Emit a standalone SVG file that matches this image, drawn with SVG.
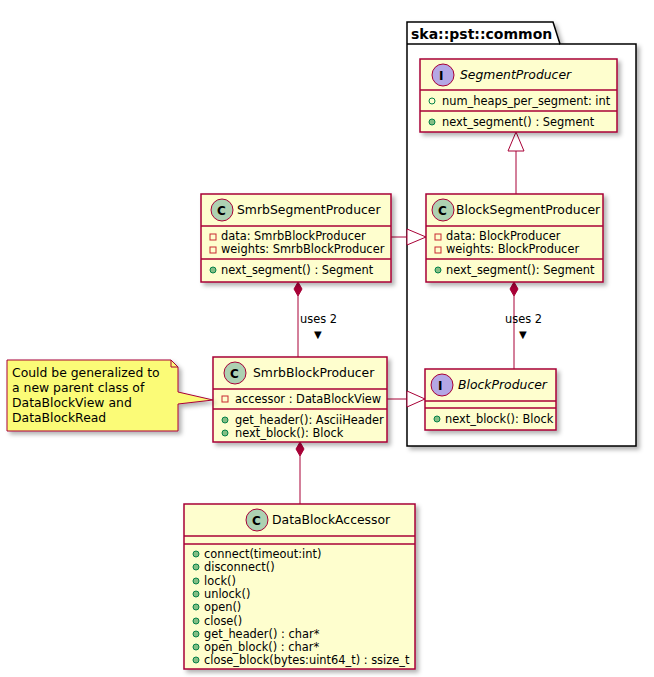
<svg xmlns="http://www.w3.org/2000/svg" width="654" height="677" viewBox="0 0 654 677">
<style>
text{font-family:"DejaVu Sans",sans-serif;font-size:11.4px;fill:#000}
.cls{fill:#FEFECE;stroke:#A80036;stroke-width:1.5;filter:url(#sh)}
.sep{stroke:#A80036;stroke-width:1.5}
.ln{stroke:#A80036;stroke-width:1;fill:none}
.t{font-size:12.4px}
.it{font-style:italic}
.pub{fill:#84BE84;stroke:#038048}
.priv{fill:none;stroke:#C82930}
</style>
<defs>
<filter id="sh" x="-10%" y="-10%" width="130%" height="130%"><feDropShadow dx="3" dy="3" stdDeviation="2" flood-color="#000" flood-opacity="0.3"/></filter>
</defs>
<g id="package">
<path d="M407,44 V22 H553 L560,44 H636 V446 H407 Z" fill="#fff" stroke="#000" stroke-width="1.5" filter="url(#sh)"/>
<line x1="407" y1="44" x2="560" y2="44" stroke="#000" stroke-width="1.5"/>
<text x="411" y="39" style="font-size:14px;font-weight:bold">ska::pst::common</text>
</g>
<g id="connectors">
<line class="ln" x1="516" y1="194" x2="516" y2="151"/><polygon points="516,132 508,151 524,151" fill="#fff" stroke="#A80036"/>
<line class="ln" x1="391" y1="237" x2="407" y2="237"/><polygon points="426,237 407,229 407,245" fill="#fff" stroke="#A80036"/>
<line class="ln" x1="387" y1="399" x2="407" y2="399"/><polygon points="425,399 407,391 407,407" fill="#fff" stroke="#A80036"/>
<line class="ln" x1="298" y1="296" x2="298" y2="357"/><polygon points="298,282 302,289 298,296 294,289" fill="#A80036" stroke="#A80036"/>
<text x="300" y="323">uses 2</text><text x="314" y="338" style="font-size:10px">▼</text>
<line class="ln" x1="514" y1="296" x2="514" y2="369"/><polygon points="514,282 518,289 514,296 510,289" fill="#A80036" stroke="#A80036"/>
<text x="505" y="323">uses 2</text><text x="519" y="338" style="font-size:10px">▼</text>
<line class="ln" x1="300" y1="456" x2="300" y2="504"/><polygon points="300,442 304,449 300,456 296,449" fill="#A80036" stroke="#A80036"/>
</g>
<g id="SegmentProducer">
<rect class="cls" x="420" y="59" width="197" height="73"/>
<circle cx="443" cy="75" r="11" fill="#B4A7E5" stroke="#A80036"/><text x="439" y="80" style="font-weight:bold;font-size:12px">I</text>
<text x="460" y="79" class="t it">SegmentProducer</text>
<line class="sep" x1="420" y1="90" x2="617" y2="90"/>
<circle cx="432" cy="101" r="3" fill="none" stroke="#038048"/><text x="442" y="105">num_heaps_per_segment: int</text>
<line class="sep" x1="420" y1="111" x2="617" y2="111"/>
<circle class="pub" cx="432" cy="122" r="3"/><text x="442" y="126">next_segment() : Segment</text>
</g>
<g id="BlockSegmentProducer">
<rect class="cls" x="426" y="194" width="177" height="88"/>
<circle cx="443" cy="210" r="11" fill="#ADD1B2" stroke="#A80036"/><text x="438" y="215" style="font-weight:bold;font-size:12px">C</text>
<text x="456" y="214" class="t">BlockSegmentProducer</text>
<line class="sep" x1="426" y1="226" x2="603" y2="226"/>
<rect class="priv" x="435" y="234" width="6" height="6"/><text x="446" y="240">data: BlockProducer</text>
<rect class="priv" x="435" y="247" width="6" height="6"/><text x="446" y="253">weights: BlockProducer</text>
<line class="sep" x1="426" y1="259" x2="603" y2="259"/>
<circle class="pub" cx="438" cy="270" r="3"/><text x="446" y="274">next_segment(): Segment</text>
</g>
<g id="SmrbSegmentProducer">
<rect class="cls" x="201" y="194" width="190" height="88"/>
<circle cx="222" cy="210" r="11" fill="#ADD1B2" stroke="#A80036"/><text x="217" y="215" style="font-weight:bold;font-size:12px">C</text>
<text x="237" y="214" class="t">SmrbSegmentProducer</text>
<line class="sep" x1="201" y1="226" x2="391" y2="226"/>
<rect class="priv" x="210" y="234" width="6" height="6"/><text x="221" y="240">data: SmrbBlockProducer</text>
<rect class="priv" x="210" y="247" width="6" height="6"/><text x="221" y="253">weights: SmrbBlockProducer</text>
<line class="sep" x1="201" y1="259" x2="391" y2="259"/>
<circle class="pub" cx="213" cy="270" r="3"/><text x="221" y="274">next_segment() : Segment</text>
</g>
<g id="BlockProducer">
<rect class="cls" x="425" y="369" width="131" height="61"/>
<circle cx="442" cy="385" r="11" fill="#B4A7E5" stroke="#A80036"/><text x="438" y="390" style="font-weight:bold;font-size:12px">I</text>
<text x="458" y="389" class="t it">BlockProducer</text>
<line class="sep" x1="425" y1="401" x2="556" y2="401"/>
<line class="sep" x1="425" y1="408" x2="556" y2="408"/>
<circle class="pub" cx="437" cy="419" r="3"/><text x="445" y="423">next_block(): Block</text>
</g>
<g id="SmrbBlockProducer">
<rect class="cls" x="213" y="357" width="174" height="85"/>
<circle cx="235" cy="373" r="11" fill="#ADD1B2" stroke="#A80036"/><text x="230" y="378" style="font-weight:bold;font-size:12px">C</text>
<text x="253" y="377" class="t">SmrbBlockProducer</text>
<line class="sep" x1="213" y1="389" x2="387" y2="389"/>
<rect class="priv" x="222" y="396" width="6" height="6"/><text x="235" y="403">accessor : DataBlockView</text>
<line class="sep" x1="213" y1="409" x2="387" y2="409"/>
<circle class="pub" cx="225" cy="420" r="3"/><text x="235" y="424">get_header(): AsciiHeader</text>
<circle class="pub" cx="225" cy="433" r="3"/><text x="235" y="437">next_block(): Block</text>
</g>
<g id="note">
<path d="M7,360 H171 L178,367 V392 L213,400 L178,404 V431 H7 Z" fill="#FBFB77" stroke="#A80036" filter="url(#sh)"/>
<path d="M171,360 V367 H178" fill="none" stroke="#A80036"/>
<text x="12" y="377" class="t">Could be generalized to</text>
<text x="12" y="392" class="t">a new parent class of</text>
<text x="12" y="407" class="t">DataBlockView and</text>
<text x="12" y="422" class="t">DataBlockRead</text>
</g>
<g id="DataBlockAccessor">
<rect class="cls" x="184" y="504" width="231" height="165"/>
<circle cx="257" cy="520" r="11" fill="#ADD1B2" stroke="#A80036"/><text x="252" y="525" style="font-weight:bold;font-size:12px">C</text>
<text x="272" y="524" class="t">DataBlockAccessor</text>
<line class="sep" x1="184" y1="536" x2="415" y2="536"/>
<line class="sep" x1="184" y1="544" x2="415" y2="544"/>
<circle class="pub" cx="196" cy="554" r="3"/><text x="204" y="558">connect(timeout:int)</text>
<circle class="pub" cx="196" cy="567" r="3"/><text x="204" y="571">disconnect()</text>
<circle class="pub" cx="196" cy="581" r="3"/><text x="204" y="585">lock()</text>
<circle class="pub" cx="196" cy="594" r="3"/><text x="204" y="598">unlock()</text>
<circle class="pub" cx="196" cy="607" r="3"/><text x="204" y="611">open()</text>
<circle class="pub" cx="196" cy="621" r="3"/><text x="204" y="625">close()</text>
<circle class="pub" cx="196" cy="634" r="3"/><text x="204" y="638">get_header() : char*</text>
<circle class="pub" cx="196" cy="647" r="3"/><text x="204" y="651">open_block() : char*</text>
<circle class="pub" cx="196" cy="660" r="3"/><text x="204" y="664">close_block(bytes:uint64_t) : ssize_t</text>
</g>
</svg>
